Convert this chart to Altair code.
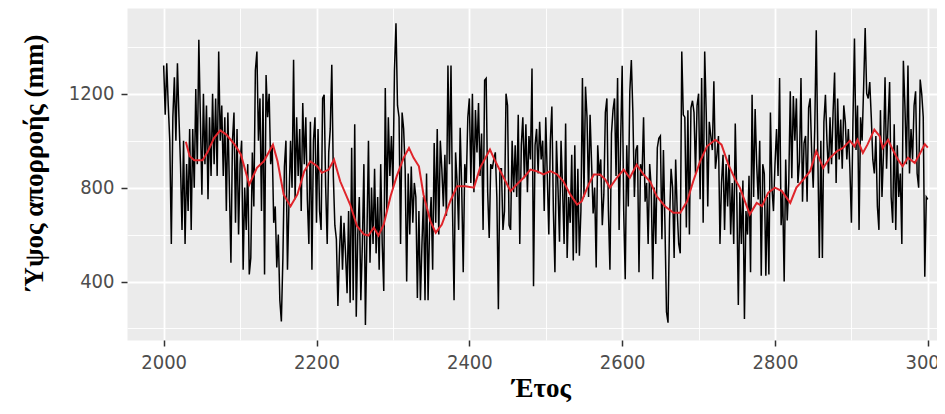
import altair as alt
import pandas as pd

# Annual runoff depth (mm), one reading every 2 years from 2000 to 3000
start_year = 2000
step = 2
runoff = [
    1320, 1110, 1330, 1150, 1000, 560, 1100, 1270, 1000, 1330,
    1100, 900, 620, 1000, 560, 900, 700, 1050, 620, 1050,
    800, 1220, 900, 1430, 1100, 770, 1200, 900, 1150, 750,
    1100, 850, 1200, 900, 1180, 850, 1380, 1000, 1150, 850,
    1100, 700, 1120, 800, 480, 1000, 1120, 650, 1050, 600,
    900, 1000, 450, 800, 620, 900, 430,
    500, 950, 720, 1300, 1380, 1000, 1180, 700, 1200, 430,
    1280, 1100, 1200, 900, 980, 650, 720, 460, 600, 320,
    230, 500, 890, 1000, 450, 740, 1000, 800, 1345, 750,
    1100, 850, 1050, 700, 1160, 900, 1100, 750, 560, 1080,
    450, 1000, 1100, 650, 1050, 700, 620, 1180, 1195, 800,
    560, 950, 1050, 1323, 850, 640, 580, 296, 520, 680,
    450, 650, 520, 350, 700, 310,
    970, 320, 1070, 250, 600, 760, 320, 560, 900, 215,
    600, 1000, 480, 800, 560, 880, 520, 760, 450, 900,
    560, 360, 1224, 700, 1100, 850, 1020, 800, 1300, 1500,
    1150, 1100, 560, 1120, 1050, 880, 400, 860, 600, 890,
    650, 820, 760, 330, 700, 320, 560, 760, 320, 860,
    320, 640, 760, 450, 990, 650, 1050, 600, 1000, 880,
    720, 940, 680, 1320, 900,
    1320, 700, 320, 950, 820, 620, 1055, 800, 440, 900,
    820, 1100, 1180, 820, 1200, 780, 1130, 950, 1160, 850,
    1030, 620, 1257, 1265, 780, 585, 900, 880, 920, 950,
    760, 282, 880, 880, 620, 700, 1200, 1150, 640, 620,
    1000, 780, 980, 760, 1110, 560, 980, 1100, 840, 1070,
    780, 1020, 920, 1307, 380, 980, 1050, 860, 1080, 920,
    1000, 700, 1100, 850, 600, 1000,
    1145, 700, 440, 1000, 800, 570, 1000, 800, 560, 1073,
    500, 760, 650, 940, 490, 980, 520, 880, 510, 700,
    1267, 760, 1230, 1100, 760, 1110, 900, 690, 800, 460,
    980, 850, 920, 640, 770, 1120, 1180, 700, 450, 1030,
    1130, 1180, 850, 1267, 620, 1000, 1319, 700, 410, 980,
    720, 1210, 1343, 1120, 760, 960, 980, 440, 900, 850,
    1100, 740, 820, 560, 900,
    800, 410, 800, 560, 970, 1010, 1020, 580, 960, 640,
    270, 225, 660, 880, 800, 500, 920, 700, 560, 520,
    1380, 1110, 1100, 630, 1130, 600, 1140, 1170, 1120, 860,
    1150, 1200, 750, 1267, 650, 1380, 1120, 720, 1080, 1020,
    960, 1253, 880, 940, 1020, 560, 820, 940, 620, 900,
    720, 940, 600, 820, 560, 1073, 760, 300, 780, 560,
    830, 240, 700, 600, 850,
    440, 1195, 760, 1135, 900, 750, 1000, 425, 900, 860,
    425, 760, 430, 1120, 800, 700, 900, 1050, 850, 1267,
    640, 780, 400, 920, 660, 820, 1210, 840, 1190, 1000,
    1180, 820, 910, 1267, 740, 990, 1020, 740, 1140, 1180,
    950, 800, 1050, 1470, 950, 500, 1000, 500, 1080, 1195,
    1000, 860, 1100, 900, 1120, 1290, 820, 1180, 920, 1090,
    880, 1150, 1080, 920, 1050, 880,
    650, 1080, 1435, 960, 1150, 620, 1100, 1000, 1230, 1480,
    1200, 1180, 1250, 1100, 920, 860, 1020, 720, 620, 1130,
    760, 950, 1270, 880, 1080, 1250, 760, 650, 1070, 620,
    980, 760, 860, 560, 1340, 1150, 900, 1320, 860, 1050,
    920, 1150, 1210, 860, 800, 1260, 1200, 1100, 420, 760,
    750,
]
years = [start_year + step * i for i in range(len(runoff))]

# Smoothed (moving-average) curve
ma_years = [
    2029, 2034, 2040, 2051, 2058, 2066, 2074, 2082, 2093, 2101, 2112,
    2122, 2131, 2143, 2149, 2157, 2166, 2175, 2184, 2192, 2201, 2207, 2216,
    2223, 2231, 2244, 2253, 2262, 2268, 2275, 2281, 2288, 2297, 2305, 2314,
    2321, 2327, 2334, 2340, 2349, 2356, 2364, 2375, 2384, 2395, 2406, 2414,
    2427, 2434, 2445, 2454, 2462, 2471, 2480, 2488, 2497, 2506, 2515, 2523,
    2532, 2541, 2547, 2556, 2563, 2571, 2578, 2584, 2593, 2602, 2610, 2619,
    2628, 2637, 2645, 2656, 2667, 2676, 2685, 2693, 2702, 2711, 2722, 2730,
    2739, 2748, 2754, 2767, 2776, 2783, 2791, 2800, 2809, 2820, 2828, 2837,
    2846, 2854, 2863, 2872, 2881, 2889, 2898, 2904, 2908, 2915, 2921, 2930,
    2937, 2941, 2948, 2954, 2961, 2967, 2974, 2983, 2989, 2996, 3000,
]
ma_values = [
    995, 934, 917, 917, 955, 1012, 1044, 1026, 983, 941, 813,
    884, 912, 983, 912, 771, 721, 771, 870, 912, 891, 863, 877,
    919, 827, 728, 636, 601, 596, 630, 596, 643, 764, 849, 927,
    969, 927, 891, 771, 657, 608, 643, 742, 806, 806, 800, 884,
    962, 912, 842, 785, 813, 842, 877, 870, 856, 870, 856, 827,
    771, 728, 742, 813, 856, 856, 834, 800, 842, 877, 842, 898,
    856, 824, 764, 721, 693, 693, 742, 827, 912, 976, 1004, 983,
    898, 834, 800, 686, 735, 721, 778, 800, 785, 735, 800, 834,
    870, 955, 884, 927, 955, 969, 1000, 976, 1004, 948, 983, 1047,
    1019, 969, 1004, 962, 919, 891, 927, 905, 941, 985, 970,
]

x_ticks = list(range(2000, 3001, 100))
y_ticks = [200, 400, 600, 800, 1000, 1200, 1400]

df_raw = pd.DataFrame({"year": years, "runoff": runoff})
df_ma = pd.DataFrame({"year": ma_years, "runoff": ma_values})

label_font = "Liberation Sans Narrow, DejaVu Sans Condensed, Liberation Sans, sans-serif"
title_font = "Liberation Serif, DejaVu Serif, serif"

x_enc = alt.X(
    "year:Q",
    scale=alt.Scale(domain=[1952, 3012], nice=False, zero=False),
    axis=alt.Axis(
        values=x_ticks,
        format="d",
        labelExpr="datum.value % 200 == 0 ? datum.label : ''",
        title="Έτος",
        titleFont=title_font,
        titleFontSize=27,
        titleFontWeight="bold",
        titleColor="#000000",
        titleX=414,
        titleY=56,
        titleAlign="center",
        titleBaseline="alphabetic",
        labelFont=label_font,
        labelFontSize=20,
        labelColor="#4d4d4d",
        labelPadding=6,
        labelFlush=False,
        labelOverlap=False,
        tickSize=6,
        tickWidth=1.5,
        tickColor="#333333",
        tickOpacity={"condition": {"test": "datum.value % 200 == 0", "value": 1}, "value": 0},
        grid=True,
        gridColor="#ffffff",
        gridWidth={"condition": {"test": "datum.value % 200 == 0", "value": 1.8}, "value": 0.9},
        domain=False,
    ),
)

y_enc = alt.Y(
    "runoff:Q",
    scale=alt.Scale(domain=[151, 1565], nice=False, zero=False),
    axis=alt.Axis(
        values=y_ticks,
        format="d",
        labelExpr="datum.value % 400 == 0 ? datum.label : ''",
        title="Ύψος απορροής (mm)",
        titleFont=title_font,
        titleFontSize=27,
        titleFontWeight="bold",
        titleColor="#000000",
        titleAngle=270,
        titleX=-85,
        titleY=154,
        titleAlign="center",
        titleBaseline="alphabetic",
        labelFont=label_font,
        labelFontSize=20,
        labelColor="#4d4d4d",
        labelPadding=7,
        labelOverlap=False,
        tickSize=6,
        tickWidth=1.5,
        tickColor="#333333",
        tickOpacity={"condition": {"test": "datum.value % 400 == 0", "value": 1}, "value": 0},
        grid=True,
        gridColor="#ffffff",
        gridWidth={"condition": {"test": "datum.value % 400 == 0", "value": 1.8}, "value": 0.9},
        domain=False,
    ),
)

raw_line = alt.Chart(df_raw).mark_line(color="#000000", strokeWidth=1.5, clip=True).encode(
    x=x_enc, y=y_enc
)
ma_line = alt.Chart(df_ma).mark_line(color="#e0242a", strokeWidth=2, clip=True).encode(
    x="year:Q", y="runoff:Q"
)

chart = (
    alt.layer(raw_line, ma_line)
    .properties(
        width=810,
        height=332,
        autosize=alt.AutoSizeParams(type="none"),
        padding={"left": 119, "top": 0, "right": 0, "bottom": 64},
    )
    .configure_view(fill="#EBEBEB", stroke="transparent")
)

chart.save("out.html", embed_options={"renderer": "svg", "actions": False})
